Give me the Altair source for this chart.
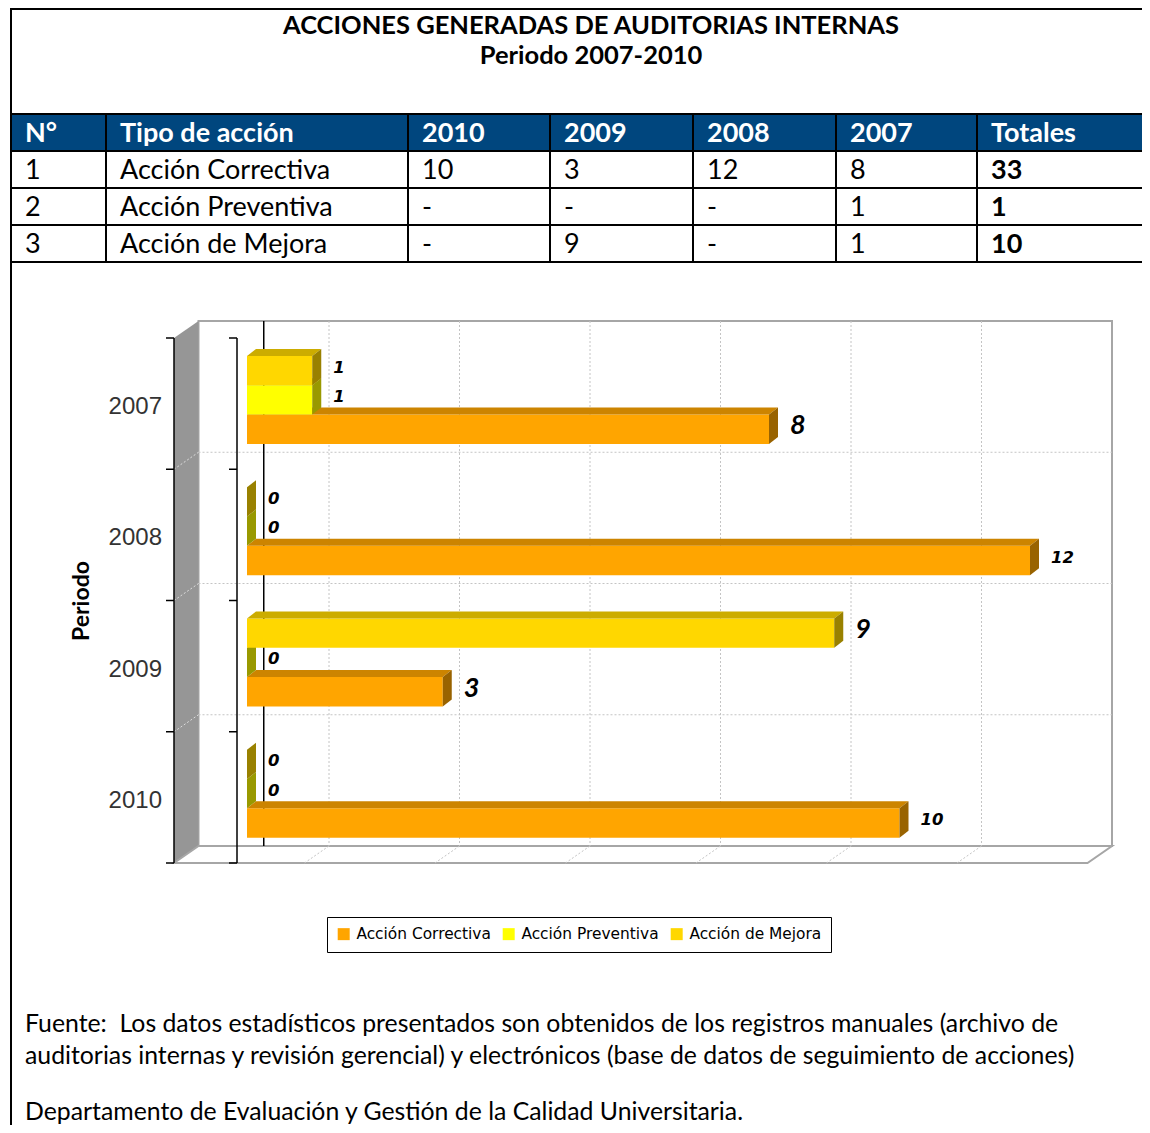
import altair as alt
import pandas as pd

# ------------------------------------------------------------------ data
YEARS = ["2007", "2008", "2009", "2010"]
SERIES = ["Acción Correctiva", "Acción Preventiva", "Acción de Mejora"]
CORRECTIVA = [8, 12, 3, 10]
PREVENTIVA = [1, 0, 0, 0]
MEJORA = [1, 0, 9, 0]
SERIES_VALUES = [CORRECTIVA, PREVENTIVA, MEJORA]

TITLE_LINES = ["ACCIONES GENERADAS DE AUDITORIAS INTERNAS", "Periodo 2007-2010"]
TABLE_HEADER = ["N°", "Tipo de acción", "2010", "2009", "2008", "2007", "Totales"]
TABLE_YEAR_ORDER = ["2010", "2009", "2008", "2007"]
Y_TITLE = "Periodo"
FOOTER_LINES = [
    "Fuente:\u00a0 Los datos estadísticos presentados son obtenidos de los registros manuales (archivo de",
    "auditorias internas y revisión gerencial) y electrónicos (base de datos de seguimiento de acciones)",
    "Departamento de Evaluación y Gestión de la Calidad Universitaria.",
]

# ------------------------------------------------------------------ styles
FRONT = ["#FFA500", "#FFFF00", "#FFD700"]
TOP = ["#CC8400", "#CCCC00", "#CCAC00"]
SIDE = ["#996300", "#999900", "#998100"]
NAVY = "#00467E"
TXT_FONT = "Lato"

# ------------------------------------------------------------------ layout (page pixels)
M = 8                      # page margin
W, H = 1134, 1117
COL_X = [11, 106, 408, 550, 693, 836, 977, 1150]
ROW_Y = [114, 151, 188, 225, 262]
ROW_BASE = [142, 179, 216, 253]
TITLE_BASE = [34, 64]
FOOTER_BASE = [1032, 1064, 1120]

# chart front plane: x domain [-1, 13] -> page 174..1087.5 ; y domain [0, 4] -> page 338..863
XDOM, YDOM = [-1, 13], [0, 4]
XR = [174 - M, 1087.5 - M]
YR = [338 - M, 863 - M]
KX = (XR[1] - XR[0]) / (XDOM[1] - XDOM[0])
KY = (YR[1] - YR[0]) / (YDOM[1] - YDOM[0])
BX, BY = 24.5 / KX, -17 / KY          # back-wall shift
PX = 7.75 / KX                        # bar plane shift
DX, DY = 9 / KX, -7 / KY              # bar depth
BT, BH = 18 / KY, 29.3 / KY           # first bar offset, bar thickness
XS = alt.Scale(domain=XDOM, range=XR, nice=False, zero=False)
YS = alt.Scale(domain=YDOM, range=YR, nice=False, zero=False)


def cx(f, **kw):
    return alt.X(f, type="quantitative", scale=XS, axis=None, **kw)


def cy(f, **kw):
    return alt.Y(f, type="quantitative", scale=YS, axis=None, **kw)


def px(f):
    return alt.X(f, type="quantitative", scale=None, axis=None)


def py(f):
    return alt.Y(f, type="quantitative", scale=None, axis=None)


layers = []

# ------------------------------------------------------------------ page frame + table
frame = pd.DataFrame([
    {"x": 11 - M, "y": 1, "x2": 1150 - M, "y2": 1},
    {"x": 11 - M, "y": 0, "x2": 11 - M, "y2": 1133 - M},
])
layers.append(alt.Chart(frame).mark_rule(color="black", strokeWidth=2).encode(
    x=px("x"), y=py("y"), x2="x2:Q", y2="y2:Q"))

head = pd.DataFrame([{"x": COL_X[0] - M, "x2": COL_X[-1] - M, "y": ROW_Y[0] - M, "y2": ROW_Y[1] - M}])
layers.append(alt.Chart(head).mark_rect(color=NAVY).encode(
    x=px("x"), x2="x2:Q", y=py("y"), y2="y2:Q"))

tlines = [{"x": COL_X[0] - M, "x2": COL_X[-1] - M, "y": yv - M, "y2": yv - M} for yv in ROW_Y]
tlines += [{"x": xv - M, "x2": xv - M, "y": ROW_Y[0] - M, "y2": ROW_Y[-1] - M} for xv in COL_X[:-1]]
layers.append(alt.Chart(pd.DataFrame(tlines)).mark_rule(color="black", strokeWidth=2).encode(
    x=px("x"), x2="x2:Q", y=py("y"), y2="y2:Q"))

title_df = pd.DataFrame([{"t": t, "x": 591 - M, "y": b - M} for t, b in zip(TITLE_LINES, TITLE_BASE)])
layers.append(alt.Chart(title_df).mark_text(
    font=TXT_FONT, fontSize=25.5, fontWeight="bold", align="center", baseline="alphabetic",
    color="black").encode(x=px("x"), y=py("y"), text="t:N"))

cells = []
for j, h in enumerate(TABLE_HEADER):
    cells.append({"t": h, "x": COL_X[j] + 14 - M, "y": ROW_BASE[0] - M, "kind": "head"})
for r, (name, vals) in enumerate(zip(SERIES, SERIES_VALUES)):
    row = [str(r + 1), name]
    for yr in TABLE_YEAR_ORDER:
        v = vals[YEARS.index(yr)]
        row.append(str(v) if v else "-")
    for j, t in enumerate(row):
        cells.append({"t": t, "x": COL_X[j] + 14 - M, "y": ROW_BASE[r + 1] - M, "kind": "body"})
    cells.append({"t": str(sum(vals)), "x": COL_X[6] + 14 - M, "y": ROW_BASE[r + 1] - M, "kind": "total"})
cells = pd.DataFrame(cells)
for kind, color, weight in [("head", "white", "bold"), ("body", "black", "normal"), ("total", "black", "bold")]:
    layers.append(alt.Chart(cells).transform_filter(alt.datum.kind == kind).mark_text(
        font=TXT_FONT, fontSize=27, fontWeight=weight, align="left", baseline="alphabetic",
        color=color).encode(x=px("x"), y=py("y"), text="t:N"))

foot_df = pd.DataFrame([{"t": t, "x": 25 - M, "y": b - M} for t, b in zip(FOOTER_LINES, FOOTER_BASE)])
layers.append(alt.Chart(foot_df).mark_text(
    font=TXT_FONT, fontSize=24.8, align="left", baseline="alphabetic", color="black").encode(
    x=px("x"), y=py("y"), text="t:N"))

# ------------------------------------------------------------------ 3D chart frame
back = pd.DataFrame([{"x": XDOM[0] + BX, "x2": XDOM[1] + BX, "y": YDOM[0] + BY, "y2": YDOM[1] + BY}])
layers.append(alt.Chart(back).mark_rect(fill="white", stroke="#A6A6A6", strokeWidth=2).encode(
    x=cx("x"), x2="x2:Q", y=cy("y"), y2="y2:Q"))

lwall = pd.DataFrame([
    {"x": XDOM[0], "y": YDOM[0], "y2": YDOM[1]},
    {"x": XDOM[0] + BX, "y": YDOM[0] + BY, "y2": YDOM[1] + BY},
])
layers.append(alt.Chart(lwall).mark_area(orient="vertical", color="#969696").encode(
    x=cx("x"), y=cy("y", stack=None), y2="y2:Q"))

floor = pd.DataFrame([
    {"y": YDOM[1], "x": XDOM[0], "x2": XDOM[1]},
    {"y": YDOM[1] + BY, "x": XDOM[0] + BX, "x2": XDOM[1] + BX},
])
layers.append(alt.Chart(floor).mark_area(orient="horizontal", fill="white", stroke="#A6A6A6",
                                         strokeWidth=2).encode(
    y=cy("y"), x=cx("x", stack=None), x2="x2:Q"))

GRID_X = [1, 3, 5, 7, 9, 11]
GRID_Y = [1, 2, 3]
grid_style = dict(color="#C4C4C4", strokeWidth=1, strokeDash=[2, 2])
gv = pd.DataFrame([{"x": g + BX, "y": YDOM[0] + BY, "y2": YDOM[1] + BY} for g in GRID_X])
layers.append(alt.Chart(gv).mark_rule(**grid_style).encode(x=cx("x"), y=cy("y"), y2="y2:Q"))
gh = pd.DataFrame([{"y": g + BY, "x": XDOM[0] + BX, "x2": XDOM[1] + BX} for g in GRID_Y])
layers.append(alt.Chart(gh).mark_rule(**grid_style).encode(y=cy("y"), x=cx("x"), x2="x2:Q"))
fd = pd.DataFrame([{"x": g + BX, "y": YDOM[1] + BY, "x2": g, "y2": YDOM[1]} for g in GRID_X])
layers.append(alt.Chart(fd).mark_rule(**grid_style).encode(x=cx("x"), y=cy("y"), x2="x2:Q", y2="y2:Q"))
wd = pd.DataFrame([{"x": XDOM[0], "y": g, "x2": XDOM[0] + BX, "y2": g + BY} for g in GRID_Y])
layers.append(alt.Chart(wd).mark_rule(color="#DCDCDC", strokeWidth=1, strokeDash=[2, 2]).encode(
    x=cx("x"), y=cy("y"), x2="x2:Q", y2="y2:Q"))

zero_line = pd.DataFrame([{"x": 0 + BX, "y": YDOM[0] + BY, "y2": YDOM[1] + BY}])
layers.append(alt.Chart(zero_line).mark_rule(color="black", strokeWidth=1.5).encode(
    x=cx("x"), y=cy("y"), y2="y2:Q"))

# axis line with ticks and the bracket
TICK = 8 / KX
BRACKET_X = XDOM[0] + 63 / KX
axis_rows = [{"x": XDOM[0], "x2": XDOM[0], "y": YDOM[0], "y2": YDOM[1]},
             {"x": BRACKET_X, "x2": BRACKET_X, "y": YDOM[0], "y2": YDOM[1]}]
for b in range(YDOM[0], YDOM[1] + 1):
    axis_rows.append({"x": XDOM[0] - TICK, "x2": XDOM[0], "y": b, "y2": b})
    axis_rows.append({"x": BRACKET_X - TICK, "x2": BRACKET_X, "y": b, "y2": b})
layers.append(alt.Chart(pd.DataFrame(axis_rows)).mark_rule(color="black", strokeWidth=1.5).encode(
    x=cx("x"), x2="x2:Q", y=cy("y"), y2="y2:Q"))

ylab = pd.DataFrame([{"t": yr, "y": i + 0.5 + 3.4 / KY, "x": XDOM[0] - 12 / KX} for i, yr in enumerate(YEARS)])
layers.append(alt.Chart(ylab).mark_text(font="Liberation Sans", fontSize=24, color="#333333",
                                        align="right", baseline="middle").encode(
    x=cx("x"), y=cy("y"), text="t:N"))

layers.append(alt.Chart(pd.DataFrame([{"t": Y_TITLE}])).mark_text(
    font=TXT_FONT, fontSize=23, fontWeight="bold", angle=270, align="center", baseline="middle",
    color="black").encode(x=alt.value(82 - M), y=alt.value(601 - M), text="t:N"))

# ------------------------------------------------------------------ bars
rows = []
for si, (name, vals) in enumerate(zip(SERIES, SERIES_VALUES)):
    for yi, (yr, v) in enumerate(zip(YEARS, vals)):
        rows.append({"year": yr, "yi": yi, "series": name, "slot": 2 - si, "value": v})
bars = pd.DataFrame(rows)

geo = dict(
    bx0=f"{PX}",
    bx1=f"datum.value + {PX}",
    yt=f"datum.yi + {BT} + datum.slot * {BH}",
    yb=f"datum.yi + {BT} + (datum.slot + 1) * {BH}",
)
LEG = alt.Legend(orient="none", legendX=327 - M, legendY=917 - M, direction="horizontal", title=None,
                 symbolType="square", symbolSize=144, symbolStrokeWidth=0, labelFont="DejaVu Sans",
                 labelFontSize=15.4, labelColor="black", strokeColor="black", padding=9,
                 columnPadding=10, labelOffset=5, labelLimit=400)

for si, name in enumerate(SERIES):
    base = alt.Chart(bars).transform_filter(alt.datum.series == name).transform_calculate(**geo)
    layers.append(base.mark_rect().encode(
        x=cx("bx0:Q"), x2="bx1:Q", y=cy("yt:Q"), y2="yb:Q",
        color=alt.Color("series:N", scale=alt.Scale(domain=SERIES, range=FRONT), legend=LEG)))
    dup = base.transform_calculate(k="[0, 1]").transform_flatten(["k"])
    top = dup.transform_calculate(
        ty=f"datum.yt + datum.k * {DY}",
        tx0=f"datum.bx0 + datum.k * {DX}",
        tx1=f"datum.bx1 + datum.k * {DX}")
    layers.append(top.mark_area(orient="horizontal", color=TOP[si]).encode(
        y=cy("ty:Q"), x=cx("tx0:Q", stack=None), x2="tx1:Q", detail="year:N"))
    side = dup.transform_calculate(
        sx=f"datum.bx1 + datum.k * {DX}",
        sy=f"datum.yt + datum.k * {DY}",
        sy2=f"datum.yb + datum.k * {DY}")
    layers.append(side.mark_area(orient="vertical", color=SIDE[si]).encode(
        x=cx("sx:Q"), y=cy("sy:Q", stack=None), y2="sy2:Q", detail="year:N"))

labels = alt.Chart(bars).transform_calculate(**geo).transform_calculate(
    lx=f"datum.bx1 + {21 / KX}", ly=f"datum.yt + {BH / 2} - {3 / KY}")
big = "datum.value >= 3 && datum.value <= 9"
layers.append(labels.transform_filter(f"!({big})").mark_text(
    font="DejaVu Sans", fontSize=16.5, fontWeight="bold", fontStyle="italic",
    align="left", baseline="middle", color="black").encode(
    x=cx("lx:Q"), y=cy("ly:Q"), text=alt.Text("value:Q", format="d")))
layers.append(labels.transform_filter(big).mark_text(
    font=TXT_FONT, fontSize=27, fontWeight="bold", fontStyle="italic",
    align="left", baseline="middle", color="black").encode(
    x=cx("lx:Q"), y=cy("ly:Q"), text=alt.Text("value:Q", format="d")))

chart = alt.layer(*layers).properties(
    width=W, height=H, autosize=alt.AutoSizeParams(type="none"), padding=0,
    background="white").configure_view(stroke=None)

chart.save("out.html", embed_options={"renderer": "svg", "actions": False})
